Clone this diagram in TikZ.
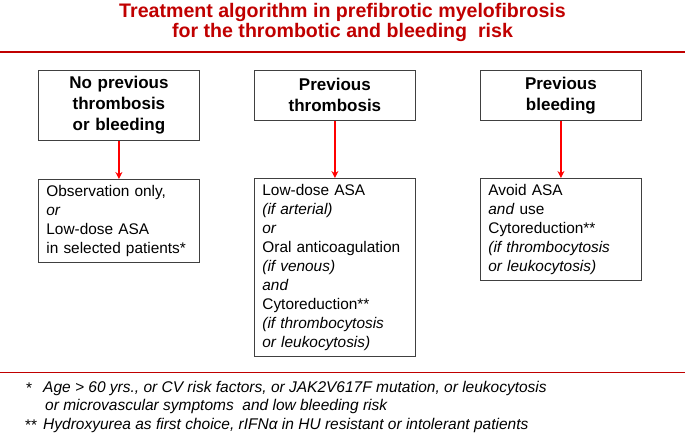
\documentclass[tikz,border=0pt]{standalone}
\usepackage{fontspec}
\setmainfont{Liberation Sans}
\usepackage{tikz}
\usetikzlibrary{arrows.meta}
\definecolor{titlered}{HTML}{C00000}
\tikzset{
    risk-box/.style = {draw=black!75, line width=0.8pt, rectangle, anchor=north west, minimum width=161pt, text width=145pt, inner xsep=8pt, align=center, font=\fontsize{17}{21}\selectfont\bfseries},
    therapy-box/.style = {draw=black!75, line width=0.8pt, rectangle, anchor=north west, text width=145pt, inner xsep=8pt, inner ysep=5.7pt, align=left, font=\fontsize{15.4}{19}\selectfont},
    red-arrow/.style = {draw=red, line width=1.3pt, -{Stealth[length=7pt,width=7pt]}},
    foot-text/.style = {anchor=west, inner sep=0pt, font=\fontsize{15.5}{18}\selectfont\itshape},
}

\begin{document}
\begin{tikzpicture}[x=1pt, y=-1pt]
\useasboundingbox (0,0) rectangle (685,435);
\node [align=center, text=titlered, font=\fontsize{19.6}{20}\selectfont\bfseries] (title) at (342.5,22.5)
    {Treatment algorithm in prefibrotic myelofibrosis\\for the thrombotic and bleeding\ \ risk};
\draw [titlered, line width=2pt] (0,52) -- (685,52);

\node [risk-box, minimum height=70pt] (none) at (38,70) {No previous\\thrombosis\\or bleeding};
\node [risk-box, minimum height=50pt] (thromb) at (254,70) {Previous\\thrombosis};
\node [risk-box, minimum height=50pt] (bleed) at (480,70) {Previous\\bleeding};

\node [therapy-box] (obs) at (38,179) {Observation only,\\\textit{or}\\Low-dose ASA\\in selected patients*};
\node [therapy-box] (anticoag) at (254,178) {Low-dose ASA\\\textit{(if arterial)}\\\textit{or}\\Oral anticoagulation\\\textit{(if venous)}\\\textit{and}\\Cytoreduction**\\\textit{(if thrombocytosis}\\\textit{or leukocytosis)}};
\node [therapy-box] (cyto) at (480,178) {Avoid ASA\\\textit{and} use\\Cytoreduction**\\\textit{(if thrombocytosis}\\\textit{or leukocytosis)}};

\draw [red-arrow] (none) -- (obs);
\draw [red-arrow] (thromb) -- (anticoag);
\draw [red-arrow] (bleed) -- (cyto);

\draw [titlered, line width=1pt] (0,372.5) -- (685,372.5);
\node [foot-text, font=\fontsize{15.5}{18}\selectfont] (star1) at (26,388) {*};
\node [foot-text] (foot1) at (43,388) {Age > 60 yrs., or CV risk factors, or JAK2V617F mutation, or leukocytosis};
\node [foot-text] (foot1b) at (45,406) {or microvascular symptoms\ \ and low bleeding risk};
\node [foot-text, font=\fontsize{15.5}{18}\selectfont] (star2) at (25,425) {**};
\node [foot-text] (foot2) at (43,425) {Hydroxyurea as first choice, rIFNα in HU resistant or intolerant patients};
\end{tikzpicture}
\end{document}
